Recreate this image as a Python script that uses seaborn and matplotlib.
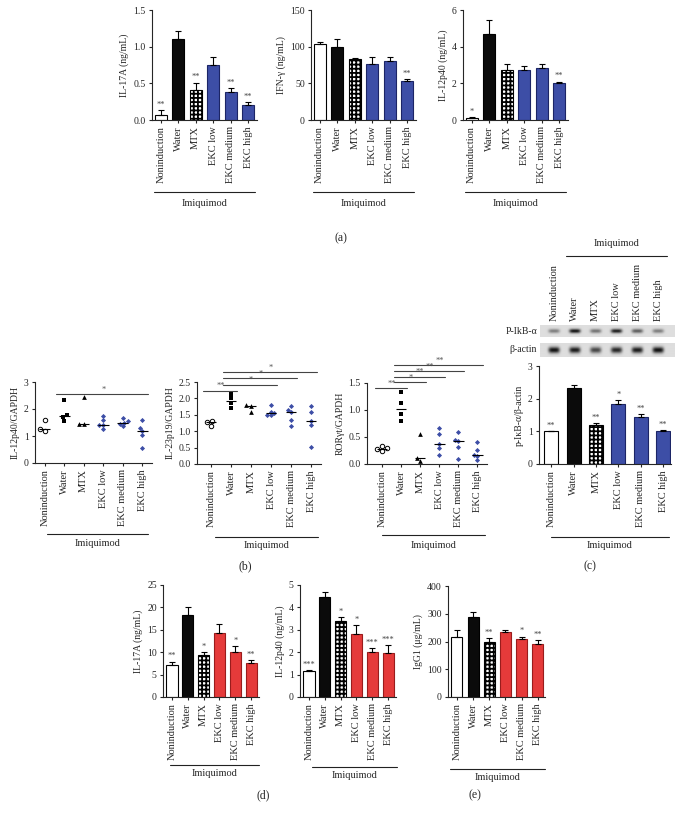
import numpy as np
import pandas as pd
import matplotlib
matplotlib.use('Agg')
import matplotlib.pyplot as plt
import matplotlib.transforms as mtransforms
from matplotlib.lines import Line2D
import seaborn as sns

sns.set_style('ticks')
plt.rcParams['font.family'] = ['Liberation Serif', 'DejaVu Serif']
plt.rcParams['hatch.linewidth'] = 1.3
plt.rcParams['axes.linewidth'] = 0.8

W, H = 680, 818

groups = ['Noninduction', 'Water', 'MTX', 'EKC low', 'EKC medium', 'EKC high']
BLUE = ('#3d4ea6', '#1c2566')
RED = ('#e53a3a', '#9a1c1c')

# (a) cytokines, mean + upper SEM
a_il17 = [0.07, 1.10, 0.41, 0.745, 0.386, 0.21]
a_il17_err = [0.07, 0.12, 0.10, 0.11, 0.05, 0.035]
a_il17_sig = ['**', '', '**', '', '**', '**']
a_ifn = [103, 100, 83, 77, 80, 53]
a_ifn_err = [4, 11, 2, 9, 6, 3]
a_ifn_sig = ['', '', '', '', '', '**']
a_il12 = [0.09, 4.7, 2.75, 2.75, 2.83, 2.0]
a_il12_err = [0.05, 0.78, 0.32, 0.2, 0.25, 0.1]
a_il12_sig = ['*', '', '', '', '', '**']

# (b) mRNA / GAPDH, individual animals
b_il12 = [[1.17, 1.58, 1.27], [2.32, 1.79, 1.54, 1.69], [2.43, 1.46, 1.46],
          [1.75, 1.60, 1.42, 1.42, 1.27], [1.68, 1.55, 1.50, 1.46, 1.38],
          [1.58, 1.30, 1.20, 1.05, 0.56]]
b_il23 = [[1.31, 1.15, 1.27], [2.14, 2.00, 1.86, 1.72], [1.81, 1.76, 1.58],
          [1.81, 1.60, 1.55, 1.50, 1.48], [1.76, 1.66, 1.58, 1.35, 1.16],
          [1.76, 1.60, 1.30, 1.19, 0.53]]
b_ror = [[0.34, 0.29, 0.27, 0.24], [1.33, 1.13, 0.92, 0.79], [0.55, 0.12, 0.06],
         [0.67, 0.55, 0.37, 0.29, 0.17], [0.60, 0.45, 0.43, 0.32, 0.09],
         [0.40, 0.25, 0.17, 0.14, 0.07]]
# comparisons: (from group, to group, height, label)
b_il12_cmp = [(1, 5, 2.56, '*')]
b_il23_cmp = [(0, 1, 2.24, '**'), (1, 3, 2.42, '*'), (1, 4, 2.62, '*'), (1, 5, 2.80, '*')]
b_ror_cmp = [(0, 1, 1.40, '**'), (1, 2, 1.51, '*'), (1, 3, 1.62, '**'),
             (1, 4, 1.72, '**'), (1, 5, 1.83, '**')]

# (c) western blot
blot_pikb = [0.45, 0.95, 0.50, 0.90, 0.60, 0.45]
blot_actin = [0.95, 0.90, 0.70, 0.85, 0.90, 0.95]
c_ratio = [1.0, 2.33, 1.19, 1.85, 1.43, 1.0]
c_ratio_err = [0.01, 0.08, 0.05, 0.11, 0.09, 0.03]
c_ratio_sig = ['**', '', '**', '*', '**', '**']

# (d) and (e)
d_il17 = [7.1, 18.2, 9.4, 14.2, 10.1, 7.6]
d_il17_err = [0.8, 1.9, 0.7, 2.0, 1.3, 0.6]
d_il17_sig = ['**', '', '*', '', '*', '**']
d_il12 = [1.18, 4.45, 3.38, 2.83, 2.0, 1.95]
d_il12_err = [0.03, 0.22, 0.2, 0.37, 0.18, 0.35]
d_il12_sig = ['***', '', '*', '*', '***', '***']
e_igg = [218, 290, 198, 236, 210, 190]
e_igg_err = [22, 18, 14, 7, 8, 16]
e_igg_sig = ['', '', '**', '', '*', '**']

fig = plt.figure(figsize=(W / 100, H / 100), dpi=100)


def fy(y):
    return 1 - y / H


def px_axes(left, top, right, bottom):
    return fig.add_axes([left / W, 1 - bottom / H, (right - left) / W, (bottom - top) / H])


def finish(ax, xlim, ylim, yticks, yticklabels, ylabel):
    ax.set_xlim(*xlim)
    ax.set_ylim(*ylim)
    ax.set_yticks(yticks)
    ax.set_yticklabels(yticklabels)
    ax.set_xticks(range(len(groups)))
    ax.set_xticklabels(groups, rotation=90)
    ax.set_xlabel('')
    ax.set_ylabel(ylabel, fontsize=7, labelpad=3)
    sns.despine(ax=ax)
    ax.tick_params(axis='both', length=2.5, width=0.8, pad=2, labelsize=7)
    ax.tick_params(axis='x', labelsize=7.5)


def imiquimod(ax, line_y, text_y, x0, x1):
    tr = mtransforms.blended_transform_factory(ax.transData, fig.transFigure)
    fig.add_artist(Line2D([x0, x1], [fy(line_y)] * 2, transform=tr, color='#222', lw=0.8))
    fig.text((x0 + x1) / 2, fy(text_y), 'Imiquimod', transform=tr,
             ha='center', va='center', fontsize=7.5)


def bar_chart(rect, vals, errs, sigs, ekc, xlim, ylim, yticks, yticklabels, ylabel, width):
    ax = px_axes(*rect)
    df = pd.DataFrame({'group': groups, 'value': vals})
    face = ['white', '#0b0b0b', 'white', ekc[0], ekc[0], ekc[0]]
    edge = ['black', 'black', 'black', ekc[1], ekc[1], ekc[1]]
    sns.barplot(data=df, x='group', y='value', hue='group', order=groups, hue_order=groups,
                palette=face, legend=False, width=width, errorbar=None, saturation=1,
                linewidth=0.8, ax=ax)
    for i, bar in enumerate(ax.patches):
        bar.set_edgecolor(edge[i])
        if groups[i] == 'MTX':
            bar.set_hatch('++++')
    ax.errorbar(range(len(groups)), vals, yerr=[np.zeros(len(vals)), errs], fmt='none',
                ecolor='black', elinewidth=0.8, capsize=2.2, capthick=0.8)
    pad = ylim[1] * 0.012
    for i, s in enumerate(sigs):
        if s:
            ax.text(i, vals[i] + errs[i] + pad, s, ha='center', va='bottom',
                    fontsize=6, color='#444')
    finish(ax, xlim, ylim, yticks, yticklabels, ylabel)
    return ax


dot_styles = [dict(marker='o', color='white', edgecolor='black', linewidth=0.7, size=3.2),
              dict(marker='s', color='black', linewidth=0, size=3.0),
              dict(marker='^', color='black', linewidth=0, size=3.4),
              dict(marker='D', color=BLUE[0], linewidth=0, size=2.6),
              dict(marker='D', color=BLUE[0], linewidth=0, size=2.6),
              dict(marker='D', color=BLUE[0], linewidth=0, size=2.6)]


def dot_chart(rect, data, cmps, xlim, ylim, yticks, yticklabels, ylabel):
    ax = px_axes(*rect)
    for i, (g, vals) in enumerate(zip(groups, data)):
        sns.swarmplot(x=[g] * len(vals), y=vals, order=groups, ax=ax, **dot_styles[i])
        ax.hlines(np.median(vals), i - 0.27, i + 0.27, color='black', lw=0.8, zorder=3)
    for i0, i1, lvl, lab in cmps:
        ax.plot([i0 - 0.4, i1 + 0.3], [lvl, lvl], color='#444', lw=0.8, clip_on=False)
        ax.text((i0 + i1) / 2, lvl + ylim[1] * 0.005, lab, ha='center', va='bottom',
                fontsize=6, color='#555', clip_on=False)
    finish(ax, xlim, ylim, yticks, yticklabels, ylabel)
    return ax


def blot_strip(rect, intensities, band_h, xlim):
    ax = px_axes(*rect)
    xs = np.linspace(xlim[0], xlim[1], 405)
    ys = np.linspace(-1, 1, 45)
    X, Y = np.meshgrid(xs, ys)
    img = np.full(X.shape, 0.87)
    for i, k in enumerate(intensities):
        img -= 0.85 * k * np.exp(-((X - i) / 0.27) ** 4 - (Y / band_h) ** 2)
    ax.imshow(img, cmap='gray', vmin=0, vmax=1, extent=(xlim[0], xlim[1], -1, 1),
              aspect='auto', interpolation='bilinear')
    ax.set_xlim(*xlim)
    ax.set_ylim(-1, 1)
    ax.axis('off')
    return ax


# ---- (a)
ax = bar_chart((152, 10, 257, 120), a_il17, a_il17_err, a_il17_sig, BLUE, (-0.5, 5.5),
               (0, 1.5), [0, 0.5, 1.0, 1.5], ['0.0', '0.5', '1.0', '1.5'], 'IL-17A (ng/mL)', 0.68)
imiquimod(ax, 192, 203, -0.4, 5.4)
ax = bar_chart((311, 10, 416, 120), a_ifn, a_ifn_err, a_ifn_sig, BLUE, (-0.5, 5.5),
               (0, 150), [0, 50, 100, 150], ['0', '50', '100', '150'], 'IFN-γ (ng/mL)', 0.68)
imiquimod(ax, 192, 203, -0.4, 5.4)
ax = bar_chart((463, 10, 568, 120), a_il12, a_il12_err, a_il12_sig, BLUE, (-0.5, 5.5),
               (0, 6), [0, 2, 4, 6], ['0', '2', '4', '6'], 'IL-12p40 (ng/mL)', 0.68)
imiquimod(ax, 192, 203, -0.4, 5.4)
fig.text(341 / W, fy(238), '(a)', ha='center', va='center', fontsize=8.5)

# ---- (b)
ax = dot_chart((35, 382, 152, 463), b_il12, b_il12_cmp, (-0.5, 5.5), (0, 3),
               [0, 1, 2, 3], ['0', '1', '2', '3'], 'IL-12p40/GAPDH')
imiquimod(ax, 534, 543, 0.1, 5.3)
ax = dot_chart((197, 382, 321, 464), b_il23, b_il23_cmp, (-0.7, 5.5), (0, 2.5),
               [0, 0.5, 1.0, 1.5, 2.0, 2.5], ['0.0', '0.5', '1.0', '1.5', '2.0', '2.5'],
               'IL-23p19/GAPDH')
imiquimod(ax, 537, 545, 0.2, 5.35)
ax = dot_chart((367, 383, 487, 464), b_ror, b_ror_cmp, (-0.8, 5.5), (0, 1.5),
               [0, 0.5, 1.0, 1.5], ['0.0', '0.5', '1.0', '1.5'], 'RORγt/GAPDH')
imiquimod(ax, 535, 545, 0.0, 5.4)
fig.text(245 / W, fy(566), '(b)', ha='center', va='center', fontsize=8.5)

# ---- (c)
lane_lim = (-0.67, 5.8)
bax = blot_strip((540, 325, 675, 337), blot_pikb, 0.35, lane_lim)
blot_strip((540, 343, 675, 357), blot_actin, 0.45, lane_lim)
fig.text(537 / W, fy(331), 'P-IkB-α', ha='right', va='center', fontsize=7)
fig.text(537 / W, fy(350), 'β-actin', ha='right', va='center', fontsize=7)
btr = mtransforms.blended_transform_factory(bax.transData, fig.transFigure)
for i, g in enumerate(groups):
    fig.text(i, fy(321), g, transform=btr, rotation=90, ha='center', va='bottom', fontsize=7.5)
imiquimod(bax, 256, 244, 0.6, 5.4)

ax = bar_chart((539, 366, 671, 464), c_ratio, c_ratio_err, c_ratio_sig, BLUE, (-0.55, 5.35),
               (0, 3), [0, 1, 2, 3], ['0', '1', '2', '3'], 'p-IκB-α/β-actin', 0.62)
imiquimod(ax, 537, 545, 0.0, 5.25)
fig.text(590 / W, fy(566), '(c)', ha='center', va='center', fontsize=8.5)

# ---- (d)
ax = bar_chart((163, 585, 259, 697), d_il17, d_il17_err, d_il17_sig, RED, (-0.57, 5.5),
               (0, 25), [0, 5, 10, 15, 20, 25], ['0', '5', '10', '15', '20', '25'],
               'IL-17A (ng/mL)', 0.7)
imiquimod(ax, 765, 773, -0.1, 5.5)
ax = bar_chart((300, 585, 396, 697), d_il12, d_il12_err, d_il12_sig, RED, (-0.57, 5.5),
               (0, 5), [0, 1, 2, 3, 4, 5], ['0', '1', '2', '3', '4', '5'],
               'IL-12p40 (ng/mL)', 0.7)
imiquimod(ax, 767, 775, 0.2, 5.55)
fig.text(263 / W, fy(795), '(d)', ha='center', va='center', fontsize=8.5)

# ---- (e)
ax = bar_chart((448, 586, 545, 697), e_igg, e_igg_err, e_igg_sig, RED, (-0.55, 5.45),
               (0, 400), [0, 100, 200, 300, 400], ['0', '100', '200', '300', '400'],
               'IgG1 (μg/mL)', 0.68)
imiquimod(ax, 769, 777, -0.4, 5.43)
fig.text(475 / W, fy(795), '(e)', ha='center', va='center', fontsize=8.5)

fig.savefig('out.png', dpi=100)
